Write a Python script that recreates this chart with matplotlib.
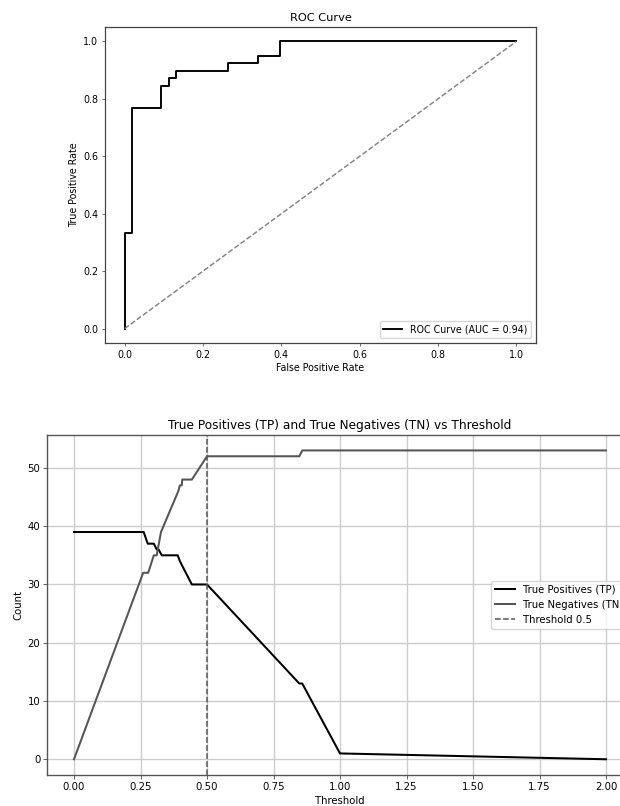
import matplotlib
matplotlib.use("Agg")
import matplotlib.pyplot as plt

# ROC curve data
fpr = [0.0, 0.0, 0.019, 0.019, 0.094, 0.094, 0.113, 0.113, 0.132, 0.132,
       0.264, 0.264, 0.340, 0.340, 0.396, 0.396, 1.0]
tpr = [0.0, 0.333, 0.333, 0.769, 0.769, 0.846, 0.846, 0.872, 0.872, 0.897,
       0.897, 0.923, 0.923, 0.949, 0.949, 1.0, 1.0]
auc_value = 0.94

# TP / TN vs threshold data
tp_thr = [0.00, 0.262, 0.277, 0.300, 0.311, 0.318, 0.330, 0.390, 0.398, 0.443,
          0.500, 0.847, 0.858, 1.000, 2.000]
tp_val = [39, 39, 37, 37, 36, 36, 35, 35, 34, 30, 30, 13, 13, 1, 0]

tn_thr = [0.00, 0.260, 0.279, 0.300, 0.311, 0.327, 0.392, 0.398, 0.405, 0.407,
          0.443, 0.500, 0.847, 0.858, 2.000]
tn_val = [0, 32, 32, 35, 35, 39, 46, 47, 47, 48, 48, 52, 52, 53, 53]

threshold = 0.5

fig = plt.figure(figsize=(6.2, 8.06), dpi=100)

# ---------- Top: ROC ----------
s1 = 0.685
ax1 = fig.add_axes([105/620, 1-343/806, 431/620, 316/806])
ax1.plot(fpr, tpr, color="black", lw=2*s1, label=f"ROC Curve (AUC = {auc_value:.2f})")
ax1.plot([0, 1], [0, 1], color="gray", lw=1.5*s1, linestyle="--")
ax1.set_title("ROC Curve", fontsize=12*s1, pad=6*s1)
ax1.set_xlabel("False Positive Rate", fontsize=10*s1, labelpad=4*s1)
ax1.set_ylabel("True Positive Rate", fontsize=10*s1, labelpad=4*s1)
ax1.tick_params(labelsize=10*s1, length=3.5*s1, width=0.8*s1, pad=3.5*s1,
                color="#444444")
for sp in ax1.spines.values():
    sp.set_linewidth(0.9)
    sp.set_color("#444444")
ax1.legend(loc="lower right", fontsize=10*s1, frameon=True)

# ---------- Bottom: TP/TN vs threshold ----------
s2 = 0.73
ax2 = fig.add_axes([47.4/620, 1-774.7/806, 585.2/620, 339.7/806])
ax2.plot(tp_thr, tp_val, color="black", lw=2*s2, label="True Positives (TP)")
ax2.plot(tn_thr, tn_val, color="#555555", lw=2*s2, label="True Negatives (TN)")
ax2.axvline(threshold, color="#555555", lw=1.5*s2, linestyle="--", label="Threshold 0.5")
ax2.set_title("True Positives (TP) and True Negatives (TN) vs Threshold",
              fontsize=12*s2, pad=6*s2)
ax2.set_xlabel("Threshold", fontsize=10*s2, labelpad=4*s2)
ax2.set_ylabel("Count", fontsize=10*s2, labelpad=4*s2)
ax2.set_xticks([0, 0.25, 0.5, 0.75, 1.0, 1.25, 1.5, 1.75, 2.0])
ax2.tick_params(labelsize=10*s2, length=3.5*s2, width=0.8*s2, pad=3.5*s2,
                color="#444444")
for sp in ax2.spines.values():
    sp.set_linewidth(1.0)
    sp.set_color("#555555")
ax2.grid(True, color="#cccccc", lw=1.0)
ax2.legend(loc="center right", fontsize=10*s2)

fig.savefig("out.png", dpi=100)
